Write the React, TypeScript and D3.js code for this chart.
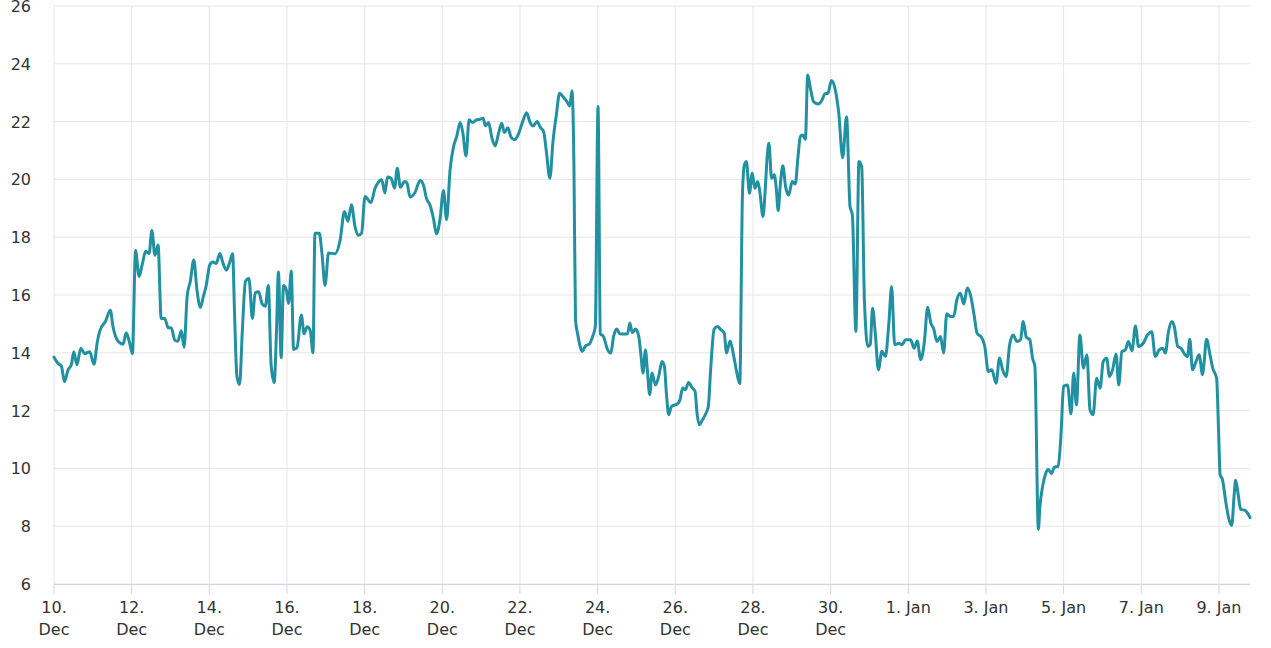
import React from "react";
import * as d3 from "d3";

// Days elapsed since 10 Dec 00:00 (UTC) for each reading
const dayOffsets: number[] = [
  0, 0.1, 0.19, 0.27, 0.36, 0.45, 0.51, 0.59, 0.69, 0.79, 0.92, 1.03, 1.11, 1.18, 1.33, 1.45, 1.52, 1.65, 1.78, 1.86, 1.95,
  2.02, 2.1, 2.19, 2.27, 2.36, 2.45, 2.52, 2.6, 2.68, 2.76, 2.85, 2.94, 3.02, 3.11, 3.19, 3.28, 3.35, 3.43, 3.51, 3.6,
  3.68, 3.77, 3.85, 3.92, 4.01, 4.09, 4.18, 4.27, 4.35, 4.44, 4.52, 4.6, 4.65, 4.71, 4.78, 4.85, 4.93, 5.02, 5.11, 5.18,
  5.27, 5.36, 5.44, 5.52, 5.59, 5.67, 5.73, 5.78, 5.85, 5.91, 5.98, 6.04, 6.11, 6.17, 6.26, 6.37, 6.44, 6.52, 6.6, 6.67,
  6.72, 6.83, 6.9, 6.98, 7.07, 7.24, 7.37, 7.48, 7.57, 7.66, 7.75, 7.83, 7.92, 8.01, 8.16, 8.27, 8.39, 8.44, 8.52, 8.59,
  8.68, 8.77, 8.84, 8.92, 9.03, 9.09, 9.17, 9.29, 9.43, 9.52, 9.59, 9.68, 9.77, 9.85, 9.94, 10.03, 10.11, 10.2, 10.29,
  10.37, 10.46, 10.53, 10.61, 10.69, 10.78, 10.88, 10.97, 11.05, 11.11, 11.19, 11.28, 11.36, 11.45, 11.53, 11.6, 11.69,
  11.77, 11.86, 11.96, 12.07, 12.17, 12.26, 12.34, 12.44, 12.53, 12.61, 12.68, 12.77, 12.85, 12.94, 13.02, 13.12, 13.21,
  13.28, 13.34, 13.39, 13.43, 13.49, 13.55, 13.6, 13.69, 13.79, 13.87, 13.94, 14.01, 14.07, 14.15, 14.26, 14.34, 14.41,
  14.49, 14.57, 14.68, 14.77, 14.83, 14.89, 14.98, 15.06, 15.11, 15.17, 15.23, 15.28, 15.34, 15.4, 15.49, 15.57, 15.66,
  15.72, 15.77, 15.83, 15.9, 16.0, 16.06, 16.12, 16.19, 16.26, 16.34, 16.43, 16.51, 16.56, 16.62, 16.7, 16.79, 16.85,
  16.91, 17.0, 17.09, 17.17, 17.26, 17.32, 17.41, 17.49, 17.57, 17.66, 17.73, 17.78, 17.83, 17.91, 17.98, 18.05, 18.12,
  18.17, 18.26, 18.31, 18.37, 18.41, 18.48, 18.55, 18.6, 18.65, 18.7, 18.77, 18.84, 18.92, 19.01, 19.09, 19.16, 19.22,
  19.28, 19.35, 19.41, 19.48, 19.56, 19.68, 19.78, 19.85, 19.93, 20.02, 20.12, 20.21, 20.31, 20.41, 20.5, 20.56, 20.65,
  20.73, 20.8, 20.87, 20.96, 21.02, 21.08, 21.15, 21.23, 21.32, 21.41, 21.5, 21.57, 21.65, 21.76, 21.84, 21.93, 22.06,
  22.15, 22.23, 22.32, 22.41, 22.5, 22.58, 22.65, 22.74, 22.83, 22.91, 22.99, 23.09, 23.17, 23.25, 23.34, 23.43, 23.52,
  23.61, 23.7, 23.77, 23.89, 23.97, 24.06, 24.15, 24.26, 24.35, 24.43, 24.52, 24.61, 24.7, 24.8, 24.89, 24.96, 25.04,
  25.13, 25.2, 25.26, 25.35, 25.39, 25.46, 25.53, 25.61, 25.69, 25.76, 25.86, 25.93, 26.0, 26.1, 26.19, 26.26, 26.33,
  26.42, 26.51, 26.6, 26.68, 26.76, 26.85, 26.94, 27.02, 27.11, 27.18, 27.26, 27.35, 27.42, 27.5, 27.59, 27.67, 27.76,
  27.85, 27.93, 28.05, 28.16, 28.27, 28.36, 28.46, 28.55, 28.62, 28.7, 28.79, 28.85, 28.94, 29.02, 29.13, 29.19, 29.25,
  29.32, 29.41, 29.49, 29.58, 29.62, 29.68, 29.77, 29.84, 29.94, 29.99, 30.03, 30.09, 30.18, 30.26, 30.33, 30.39, 30.43,
  30.49, 30.56, 30.67, 30.76, 30.8,
];

// Temperature readings (°C)
const temperatures: number[] = [
  13.85, 13.64, 13.54, 13.0, 13.4, 13.6, 14.04, 13.59, 14.16, 13.97, 14.04, 13.6, 14.33, 14.76, 15.1, 15.47, 14.9, 14.4, 14.3, 14.69, 14.33,
  13.97, 17.54, 16.64, 17.04, 17.51, 17.44, 18.23, 17.37, 17.73, 15.19, 15.19, 14.87, 14.86, 14.44, 14.4, 14.76, 14.19, 15.97, 16.47, 17.21,
  16.19, 15.57, 15.97, 16.33, 17.04, 17.14, 17.09, 17.44, 17.11, 16.86, 17.11, 17.43, 15.33, 13.19, 12.9, 14.76, 16.47, 16.57, 15.19, 16.07,
  16.11, 15.69, 15.61, 16.33, 13.61, 12.97, 14.76, 16.8, 13.83, 16.33, 16.19, 15.71, 16.83, 14.11, 14.19, 15.31, 14.66, 14.9, 14.76, 14.0,
  18.14, 18.14, 17.45, 16.33, 17.45, 17.43, 17.91, 18.89, 18.55, 19.12, 18.38, 18.07, 18.14, 19.41, 19.2, 19.7, 19.96, 19.99, 19.53, 20.08,
  20.04, 19.7, 20.39, 19.73, 19.93, 19.87, 19.39, 19.53, 19.96, 19.78, 19.35, 19.12, 18.66, 18.12, 18.61, 19.62, 18.61, 20.33, 21.14,
  21.48, 21.97, 21.6, 20.81, 22.06, 21.97, 22.06, 22.08, 22.12, 21.85, 21.97, 21.42, 21.16, 21.6, 21.94, 21.62, 21.79,
  21.46, 21.37, 21.57, 22.0, 22.31, 21.97, 21.85, 22.0, 21.79, 21.65, 20.96, 20.04, 21.31, 22.27, 22.98, 22.84, 22.69,
  22.54, 23.07, 20.44, 15.14, 14.62, 14.22, 14.05, 14.24, 14.31, 14.56, 14.91, 22.52, 14.66, 14.56, 14.1, 13.99, 14.56,
  14.82, 14.66, 14.65, 14.66, 15.03, 14.7, 14.82, 14.56, 13.99, 13.3, 14.1, 13.41, 12.55, 13.3, 12.89, 13.18, 13.7,
  13.53, 12.61, 11.86, 12.14, 12.2, 12.24, 12.37, 12.78, 12.72, 12.97, 12.8, 12.66, 11.91, 11.51, 11.68, 11.91, 12.14,
  13.41, 14.82, 14.91, 14.8, 14.68, 13.99, 14.41, 13.99, 13.41, 12.93, 19.52, 20.5, 20.62, 19.52, 20.21, 19.69, 19.93,
  19.64, 18.72, 19.52, 20.85, 21.25, 20.04, 20.16, 19.69, 18.92, 19.75, 20.47, 19.75, 19.46, 19.93, 19.84, 20.79, 21.48,
  21.54, 21.39, 23.61, 23.15, 22.69, 22.61, 22.75, 22.96, 22.98, 23.42, 23.1, 22.29, 20.75, 22.17, 19.06, 18.77, 14.74,
  20.62, 20.44, 15.83, 14.22, 14.28, 15.54, 14.68, 13.41, 14.05, 13.87, 15.03, 16.29, 14.28, 14.33, 14.28, 14.45, 14.45,
  14.16, 14.41, 13.76, 14.33, 15.58, 15.03, 14.85, 14.39, 14.56, 13.99, 15.35, 15.26, 15.26, 15.83, 16.06, 15.69, 16.24,
  15.95, 15.26, 14.68, 14.53, 14.22, 13.35, 13.41, 12.95, 13.82, 13.41, 13.18, 14.28, 14.62, 14.39, 14.45, 15.08, 14.54,
  14.45, 13.81, 13.53, 7.89, 8.69, 9.38, 9.79, 9.96, 9.82, 10.04, 10.07, 11.11, 12.84, 12.89, 11.89, 13.3, 12.2,
  14.62, 13.47, 13.93, 12.03, 11.86, 13.12, 12.78, 13.7, 13.81, 13.18, 13.41, 13.96, 12.89, 14.04, 14.1, 14.39, 14.07,
  14.93, 14.22, 14.33, 14.62, 14.73, 13.87, 14.1, 14.16, 13.99, 14.73, 15.08, 14.91, 14.22, 14.16, 13.93, 13.87, 14.47,
  13.41, 13.7, 13.93, 13.24, 13.7, 14.47, 13.93, 13.47, 13.12, 11.33, 9.79, 9.61, 8.81, 8.23, 8.03, 9.04, 9.59,
  9.15, 8.58, 8.55, 8.4, 8.3,
];

const yTicks: number[] = [6, 8, 10, 12, 14, 16, 18, 20, 22, 24, 26];
const xTickDays: number[] = [0, 2, 4, 6, 8, 10, 12, 14, 16, 18, 20, 22, 24, 26, 28, 30];
const xTickLabels: string[][] = [
  ["10.", "Dec"], ["12.", "Dec"], ["14.", "Dec"], ["16.", "Dec"], ["18.", "Dec"], ["20.", "Dec"],
  ["22.", "Dec"], ["24.", "Dec"], ["26.", "Dec"], ["28.", "Dec"], ["30.", "Dec"],
  ["1. Jan"], ["3. Jan"], ["5. Jan"], ["7. Jan"], ["9. Jan"],
];

const START = Date.UTC(2019, 11, 10);
const DAY = 86400000;
const toDate = (d: number) => new Date(START + d * DAY);

const W = 1271;
const H = 648;
const M = { left: 54, right: 1250, top: 6, bottom: 584 };
const FONT = "'DejaVu Sans', sans-serif";

export default function App() {
  const x = d3.scaleUtc().domain([toDate(0), toDate(30.8)]).range([M.left, M.right]);
  const y = d3.scaleLinear().domain([6, 26]).range([M.bottom, M.top]);

  const points = dayOffsets.map((d, i) => ({ t: toDate(d), v: temperatures[i] }));
  const line = d3
    .line<{ t: Date; v: number }>()
    .x((p) => x(p.t))
    .y((p) => y(p.v))
    .curve(d3.curveMonotoneX);

  return (
    <svg
      width={W}
      height={H}
      style={{ position: "absolute", left: 0, top: 0, background: "#fff" }}
    >
      {yTicks.map((t) => (
        <line key={"hy" + t} x1={M.left} x2={M.right} y1={y(t)} y2={y(t)} stroke="#e6e6e6" strokeWidth={1} />
      ))}
      {xTickDays.map((d) => (
        <line key={"gx" + d} x1={x(toDate(d))} x2={x(toDate(d))} y1={M.top} y2={M.bottom} stroke="#e6e6e6" strokeWidth={1} />
      ))}
      <line x1={M.left} x2={M.right} y1={M.bottom + 0.5} y2={M.bottom + 0.5} stroke="#ccd6eb" strokeWidth={1} />
      {xTickDays.map((d) => (
        <line key={"tk" + d} x1={x(toDate(d))} x2={x(toDate(d))} y1={M.bottom} y2={M.bottom + 10} stroke="#ccd6eb" strokeWidth={1} />
      ))}
      {yTicks.map((t) => (
        <text
          key={"yl" + t}
          x={31}
          y={y(t) + 6}
          textAnchor="end"
          fontFamily={FONT}
          fontSize={16}
          fill="#333"
        >
          {t}
        </text>
      ))}
      {xTickDays.map((d, i) => (
        <text key={"xl" + d} textAnchor="middle" fontFamily={FONT} fontSize={16} fill="#333">
          {xTickLabels[i].map((s, j) => (
            <tspan key={j} x={x(toDate(d))} y={613 + j * 22}>
              {s}
            </tspan>
          ))}
        </text>
      ))}
      <path d={line(points) || ""} fill="none" stroke="#2190a1" strokeWidth={3} strokeLinejoin="round" strokeLinecap="round" />
    </svg>
  );
}
